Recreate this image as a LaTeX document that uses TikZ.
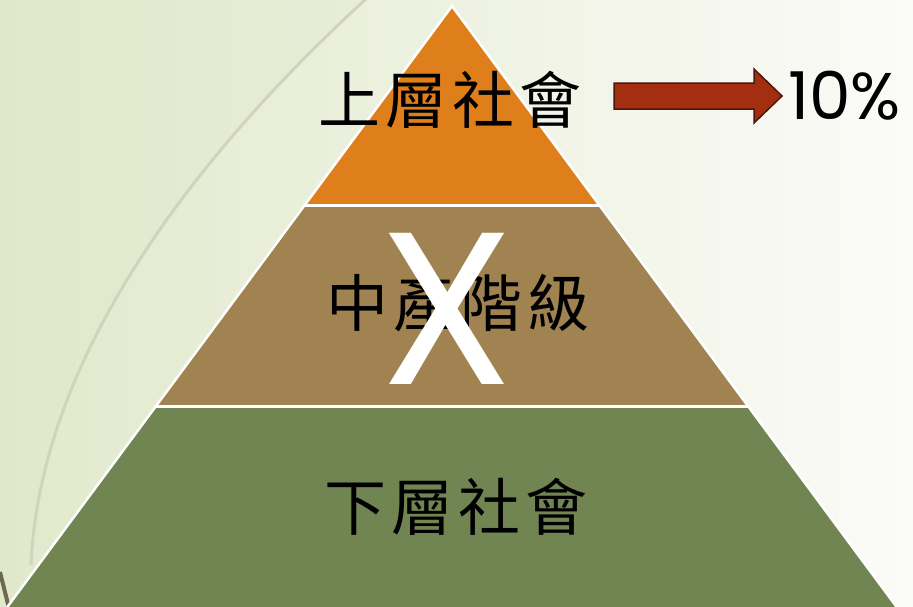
\documentclass[tikz,border=0pt]{standalone}
\usepackage{fontspec}
\setmainfont{Poppins}
\newfontfamily\cjk[LetterSpace=8]{Noto Sans CJK TC}
\definecolor{bgleft}{HTML}{E1E9CB}
\definecolor{bgmid}{HTML}{EBF0DD}
\definecolor{bgright}{HTML}{FBFBF8}
\definecolor{leaf}{HTML}{DFE8CA}
\definecolor{vein}{HTML}{D0D4BD}
\definecolor{stem}{HTML}{6F6650}
\definecolor{uppertier}{HTML}{DF7F1C}
\definecolor{middletier}{HTML}{A08350}
\definecolor{lowertier}{HTML}{718552}
\definecolor{arrowfill}{HTML}{A32E10}
\definecolor{arrowline}{HTML}{4D160A}
\begin{document}
\begin{tikzpicture}[x=1pt,y=-1pt,
	tiertext/.style={inner sep=0pt,font=\cjk\fontsize{62}{62}\selectfont},
	edge/.style={white,line width=2.5pt},
	blockarrow/.style={fill=arrowfill,draw=arrowline,line width=1.5pt,line join=miter}]
	\useasboundingbox (0,0) rectangle (913,606);
	\clip (0,0) rectangle (913,606);
	% background
	\shade[left color=bgleft,middle color=bgmid,right color=bgright] (0,0) rectangle (913,606);
	\fill[leaf,opacity=0.3] (0,-2) -- (367,-2) .. controls (190,160) and (40,360) .. (31,565) -- (0,606) -- cycle;
	\draw[vein,line width=3pt] (367,-2) .. controls (190,160) and (40,360) .. (31,565);
	\draw[stem,line width=4pt] (0,572) -- (9,608);
	% pyramid
	\fill[uppertier] (452,6) -- (304.4,205.5) -- (599.6,205.5) -- cycle;
	\fill[middletier] (304.4,205.5) -- (155.6,406.5) -- (748.4,406.5) -- (599.6,205.5) -- cycle;
	\fill[lowertier] (155.6,406.5) -- (3.6,612) -- (900.4,612) -- (748.4,406.5) -- cycle;
	\draw[edge] (3.6,612) -- (452,6) -- (900.4,612);
	\draw[edge,line width=3pt] (304.4,205.5) -- (599.6,205.5);
	\draw[edge,line width=3pt] (155.6,406.5) -- (748.4,406.5);
	% labels
	\node[tiertext] (upper) at (450,100) {上層社會};
	\node[tiertext] (middle) at (458,303) {中產階級};
	\node[tiertext] (lower) at (456,507) {下層社會};
	\node[inner sep=0pt,white,font=\fontsize{217}{217}\selectfont] (cross) at (447,309) {X};
	\node[inner sep=0pt,anchor=west,font=\fontsize{66}{66}\selectfont] (pct) at (788,96) {10\%};
	% arrow to 10%
	\coordinate (tail) at (614,96);
	\draw[blockarrow] (tail) ++(0,-13) -- ++(140,0) -- ++(0,-14) -- ++(28,27) -- ++(-28,27) -- ++(0,-14) -- ++(-140,0) -- cycle;
\end{tikzpicture}
\end{document}
